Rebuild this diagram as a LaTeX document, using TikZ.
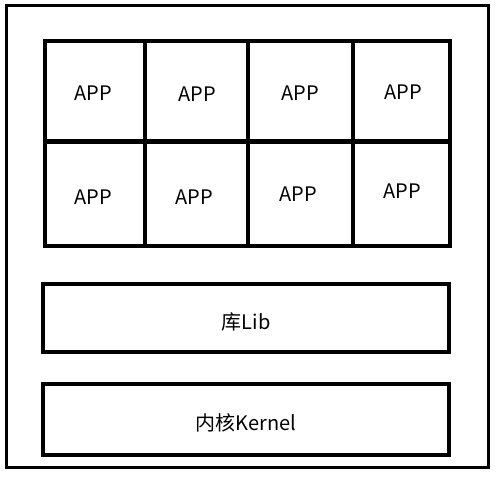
\documentclass[tikz,border=0pt]{standalone}
\usepackage{fontspec}
\setmainfont{Noto Sans CJK SC}
\begin{document}
\begin{tikzpicture}[x=1pt,y=-1pt,
  box/.style={draw=black,line width=4pt,inner sep=0pt},
  txt/.style={inner sep=0pt,font=\fontsize{20}{24}\selectfont},
  cell/.style={box,minimum width=#1,minimum height=101pt},
  cell/.default=101pt]
\useasboundingbox (0,0) rectangle (496,479);
\draw[line width=3.5pt] (6.5,5.5) rectangle (488.5,467.5);
% grid cells
\node[cell=100pt] (a1) at (95,91) {};
\node[cell=103pt] (a2) at (196.5,91) {};
\node[cell=105pt] (a3) at (300.5,91) {};
\node[cell=96.5pt] (a4) at (401.25,91) {};
\node[cell=100pt,minimum height=105pt] (b1) at (95,193) {};
\node[cell=103pt,minimum height=105pt] (b2) at (196.5,193) {};
\node[cell=105pt,minimum height=105pt] (b3) at (300.5,193) {};
\node[cell=96.5pt,minimum height=105pt] (b4) at (401.25,193) {};
\node[txt] (ta1) at (93,93) {APP};
\node[txt] (ta2) at (197,94) {APP};
\node[txt] (ta3) at (300,93) {APP};
\node[txt] (ta4) at (403,92) {APP};
\node[txt] (tb1) at (93,197) {APP};
\node[txt] (tb2) at (194,197) {APP};
\node[txt] (tb3) at (298,194) {APP};
\node[txt] (tb4) at (402,191) {APP};
\node[box,minimum width=406pt,minimum height=68.5pt] (lib) at (246,317.75) {};
\node[box,minimum width=406pt,minimum height=70.5pt] (kernel) at (246,419.25) {};
\node[txt] (tlib) at (246,322) {库Lib};
\node[txt] (tkernel) at (246,423) {内核Kernel};
\end{tikzpicture}
\end{document}
